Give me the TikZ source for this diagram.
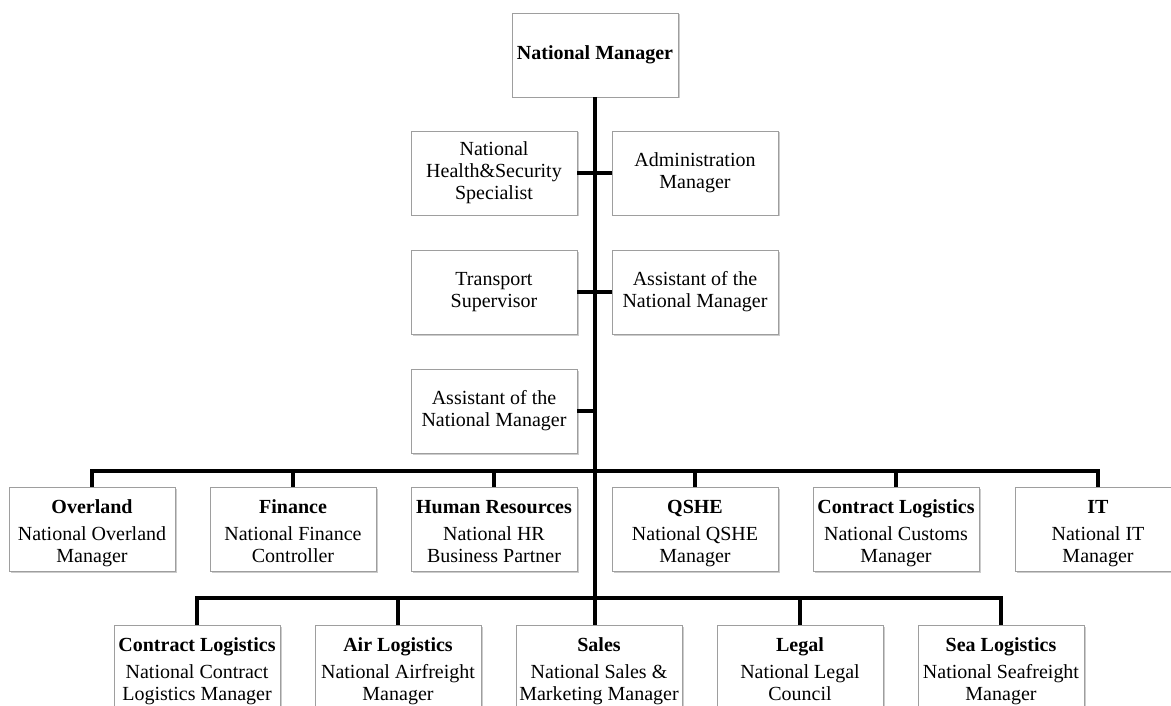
\documentclass[tikz,border=0pt]{standalone}
\usepackage{fontspec}
\setmainfont{Liberation Serif}
\usetikzlibrary{shadows}
\newcommand{\tri}[3]{\rule{0pt}{24pt}\textbf{#1}\strut\\[5pt]#2\strut\\#3\strut}
\begin{document}
\begin{tikzpicture}[x=1pt,y=-1pt]
\tikzset{
  box/.style={draw=black!38, line width=0.8pt, fill=white,
    minimum width=166pt, minimum height=84pt, inner sep=2pt, align=center,
    font=\fontsize{20}{22}\selectfont,
    drop shadow={shadow xshift=1.5pt, shadow yshift=-1.5pt, fill=black!40, opacity=0.5}},
  conn/.style={line width=3.5pt, draw=black},
}
\useasboundingbox (0,0) rectangle (1171,706);
\clip (0,0) rectangle (1171,706);
% top
\node[box] (nm) at (595,55) {\textbf{National Manager}};
% staff
\node[box] (hs)  at (494,173) {National\strut\\Health\&Security\strut\\Specialist\strut};
\node[box] (adm) at (695,173) {Administration\strut\\Manager\strut};
\node[box] (ts)  at (494,292) {Transport\strut\\Supervisor\strut};
\node[box] (asr) at (695,292) {Assistant of the\strut\\National Manager\strut};
\node[box] (asl) at (494,411) {Assistant of the\strut\\National Manager\strut};
% first row
\node[box] (ov) at (92,529)  {\tri{Overland}{National Overland}{Manager}};
\node[box] (fi) at (293,529) {\tri{Finance}{National Finance}{Controller}};
\node[box] (hr) at (494,529) {\tri{Human Resources}{National HR}{Business Partner}};
\node[box] (qs) at (695,529) {\tri{QSHE}{National QSHE}{Manager}};
\node[box] (cu) at (896,529) {\tri{Contract Logistics}{National Customs}{Manager}};
\node[box] (it) at (1098,529) {\tri{IT}{National IT}{Manager}};
% second row
\node[box] (cl) at (197,667) {\tri{Contract Logistics}{National Contract}{Logistics Manager}};
\node[box] (al) at (398,667) {\tri{Air Logistics}{National Airfreight}{Manager}};
\node[box] (sa) at (599,667) {\tri{Sales}{National Sales \&}{Marketing Manager}};
\node[box] (le) at (800,667) {\tri{Legal}{National Legal}{Council}};
\node[box] (se) at (1001,667) {\tri{Sea Logistics}{National Seafreight}{Manager}};
% connectors
\coordinate (tbar) at (595,471);
\coordinate (bbar) at (595,598);
\coordinate (tend) at (595,625);
\draw[conn] (nm.south) -- (tend);
\draw[conn] (hs.east) -- (adm.west);
\draw[conn] (ts.east) -- (asr.west);
\draw[conn] (asl.east) -- (asl.east -| nm.south);
\draw[conn] (ov.north) |- (tbar) -| (it.north);
\draw[conn] (fi.north) -- (fi.north |- tbar);
\draw[conn] (hr.north) -- (hr.north |- tbar);
\draw[conn] (qs.north) -- (qs.north |- tbar);
\draw[conn] (cu.north) -- (cu.north |- tbar);
\draw[conn] (cl.north) |- (bbar) -| (se.north);
\draw[conn] (al.north) -- (al.north |- bbar);
\draw[conn] (le.north) -- (le.north |- bbar);
\end{tikzpicture}
\end{document}
